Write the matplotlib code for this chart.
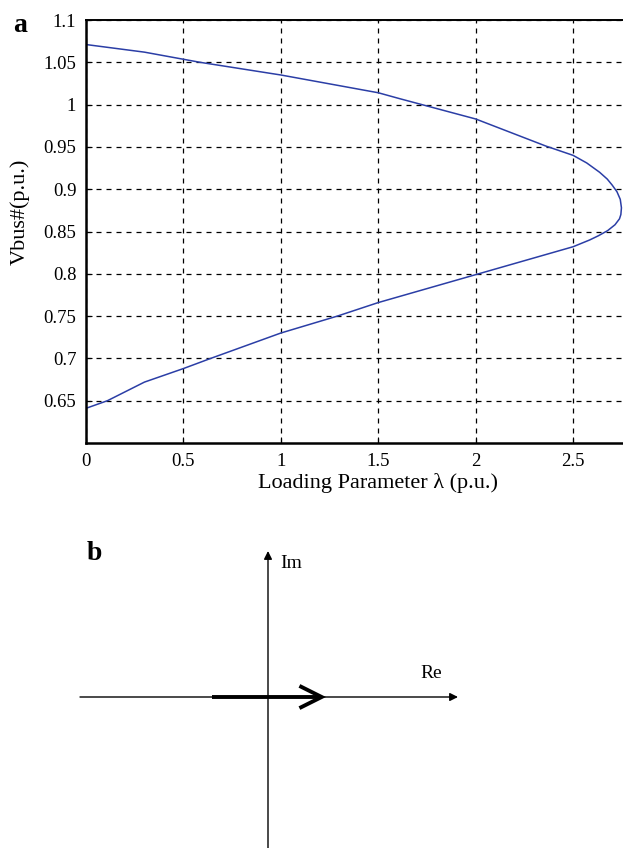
import matplotlib
matplotlib.use("Agg")
import matplotlib.pyplot as plt

plt.rcParams["font.family"] = ["Liberation Serif", "DejaVu Serif"]

# P-V (nose) curve, traced from the upper branch round the nose to the lower branch
lam = [0.0, 0.3, 0.585, 1.0, 1.5, 1.61, 2.0, 2.36, 2.5, 2.57, 2.636, 2.675, 2.70, 2.725,
       2.742, 2.748, 2.745, 2.738, 2.715, 2.677, 2.63, 2.585, 2.5, 2.0, 1.5, 1.29, 1.0,
       0.7, 0.64, 0.5, 0.3, 0.11, 0.0]
vbus = [1.071, 1.062, 1.05, 1.035, 1.014, 1.007, 0.983, 0.951, 0.940, 0.931, 0.92, 0.912, 0.905, 0.897,
        0.888, 0.878, 0.870, 0.865, 0.858, 0.851, 0.845, 0.84, 0.832, 0.799, 0.766, 0.75, 0.730,
        0.705, 0.70, 0.688, 0.672, 0.65, 0.641]

xticks = [0, 0.5, 1, 1.5, 2, 2.5]
xtick_labels = ["0", "0.5", "1", "1.5", "2", "2.5"]
yticks = [0.65, 0.7, 0.75, 0.8, 0.85, 0.9, 0.95, 1.0, 1.05, 1.1]
ytick_labels = ["0.65", "0.7", "0.75", "0.8", "0.85", "0.9", "0.95", "1", "1.05", "1.1"]

W, H = 623, 848
fig = plt.figure(figsize=(W / 100, H / 100), dpi=100)

# ---- panel a ----
ax = fig.add_axes([86 / W, 1 - 443 / H, (W - 86) / W, (443 - 20) / H])
ax.plot(lam, vbus, color="#2b3ea6", lw=1.1)
ax.set_xlim(0, 2.756)
ax.set_ylim(0.6, 1.1)
ax.set_xticks(xticks)
ax.set_xticklabels(xtick_labels)
ax.set_yticks(yticks)
ax.set_yticklabels(ytick_labels)
ax.tick_params(direction="in", length=4, labelsize=13.5, pad=7, color="black")
ax.grid(True, color="black", linestyle=(0, (4, 4)), lw=0.9)
ax.spines["right"].set_visible(False)
ax.spines["left"].set_linewidth(1.8)
ax.spines["bottom"].set_linewidth(1.8)
ax.spines["top"].set_linewidth(1.4)
ax.set_xlabel("Loading Parameter λ (p.u.)", fontsize=16, va="center")
ax.set_ylabel("Vbus#(p.u.)", fontsize=16, va="center")
ax.xaxis.set_label_coords(0.544, -0.095)
ax.yaxis.set_label_coords(-0.123, 0.546)

fig.text(20 / W, 1 - 25 / H, "a", fontsize=20, fontweight="bold", va="center", ha="center")

# ---- panel b: complex plane sketch ----
fig.text(94 / W, 1 - 553 / H, "b", fontsize=20, fontweight="bold", va="center", ha="center")

bx = fig.add_axes([0, 0, 1, 1])
bx.set_xlim(0, W)
bx.set_ylim(H, 0)
bx.axis("off")

ox, oy = 268, 697
axis_kw = dict(arrowstyle="-|>", color="black", lw=1.0, mutation_scale=12,
               shrinkA=0, shrinkB=0)
bx.annotate("", xy=(458, oy), xytext=(80, oy), arrowprops=axis_kw)
bx.annotate("", xy=(ox, 551), xytext=(ox, H + 2), arrowprops=axis_kw)

bx.annotate("", xy=(326, oy), xytext=(212, oy),
            arrowprops=dict(arrowstyle="->,head_length=1.6,head_width=0.8",
                            color="black", lw=2.8, shrinkA=0, shrinkB=0,
                            joinstyle="miter", capstyle="butt"))

bx.text(291, 564, "Im", fontsize=14, ha="center", va="center")
bx.text(431, 673, "Re", fontsize=14, ha="center", va="center")

fig.savefig("out.png", dpi=100)
